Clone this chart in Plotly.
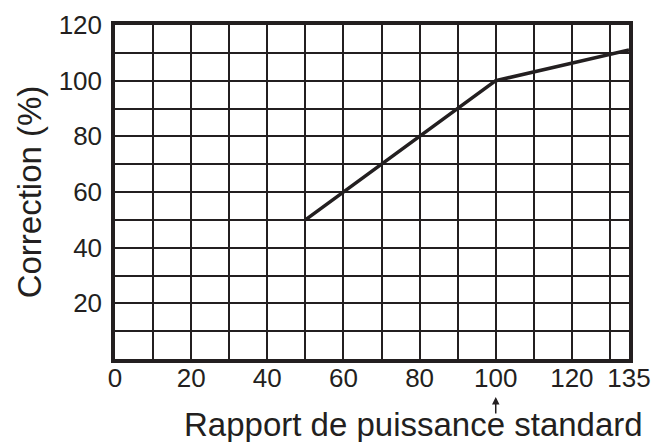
import plotly.graph_objects as go

# Data
rapport = [50, 100, 135]
correction = [50, 100, 111]

x_ticks = [0, 20, 40, 60, 80, 100, 120, 135]
x_labels = ["0", "20", "40", "60", "80", "100", "120", "135"]
y_ticks = [20, 40, 60, 80, 100, 120]
y_labels = ["20", "40", "60", "80", "100", "120"]

ink = "#231f20"
font = "Liberation Sans, Arial, sans-serif"

fig = go.Figure()

fig.add_trace(
    go.Scatter(
        x=rapport,
        y=correction,
        mode="lines",
        line=dict(color=ink, width=3.5),
        showlegend=False,
        hoverinfo="skip",
    )
)

grid = dict(
    showgrid=True,
    gridcolor=ink,
    gridwidth=2,
    zeroline=False,
    showline=True,
    linecolor=ink,
    linewidth=3.5,
    mirror=True,
    ticks="",
    automargin=False,
    tickfont=dict(family=font, size=26, color=ink),
)

fig.update_xaxes(
    range=[0, 135],
    tickmode="array",
    tickvals=x_ticks,
    ticktext=x_labels,
    ticklabelstandoff=-7,
    minor=dict(tickmode="linear", tick0=0, dtick=10, showgrid=True,
               gridcolor=ink, gridwidth=2),
    **grid,
)
fig.update_yaxes(
    range=[0, 120],
    tickmode="array",
    tickvals=y_ticks,
    ticktext=y_labels,
    ticklabelstandoff=4,
    minor=dict(tickmode="linear", tick0=0, dtick=10, showgrid=True,
               gridcolor=ink, gridwidth=2),
    title=dict(text="Correction (%)", font=dict(family=font, size=33, color=ink),
               standoff=8),
    **grid,
)

# x-axis title, shifted right as in the original
fig.add_annotation(
    text="Rapport de puissance standard",
    xref="paper", yref="paper",
    x=0.58, y=-0.195,
    xanchor="center", yanchor="middle",
    showarrow=False,
    font=dict(family=font, size=33, color=ink),
)

# small arrow pointing at 100
fig.add_annotation(
    x=100, y=-0.114,
    xref="x", yref="paper",
    text="",
    showarrow=True,
    arrowhead=2,
    arrowsize=1,
    arrowwidth=1.5,
    arrowcolor=ink,
    ax=0, ay=18,
)

fig.update_layout(
    width=653,
    height=442,
    margin=dict(l=115, r=24, t=25, b=83),
    plot_bgcolor="white",
    paper_bgcolor="white",
)

# drop the default body margin so the figure fills the window exactly
fig.write_html(
    "out.html",
    config={"displayModeBar": False},
    post_script="document.body.style.margin = '0';",
)
